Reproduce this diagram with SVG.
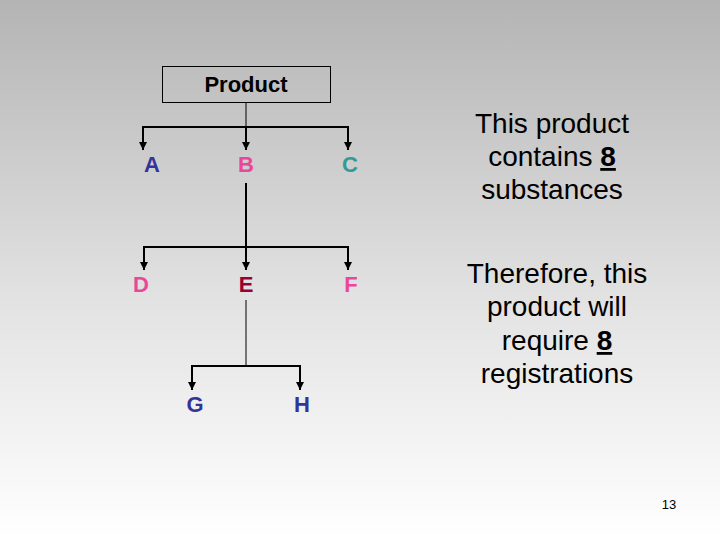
<svg xmlns="http://www.w3.org/2000/svg" width="720" height="540" viewBox="0 0 720 540">
<defs>
<linearGradient id="bg" x1="0" y1="0" x2="0" y2="1">
<stop offset="0" stop-color="#b4b4b4"/>
<stop offset="0.55" stop-color="#e2e2e2"/>
<stop offset="1" stop-color="#ffffff"/>
</linearGradient>
<marker id="ah" viewBox="0 0 10 10" refX="10" refY="5" markerWidth="8" markerHeight="8" markerUnits="userSpaceOnUse" orient="auto">
<path d="M0,0 L10,5 L0,10 Z" fill="#000"/>
</marker>
<style>
.lbl{font-family:"Liberation Sans",Arial,sans-serif;font-size:22px;font-weight:bold;text-anchor:middle}
.txt{font-family:"Liberation Sans",Arial,sans-serif;font-size:28px;text-anchor:middle;fill:#000}
.c{fill:none;stroke:#000;stroke-width:2}
.t{fill:none;stroke:#000;stroke-width:1}
</style>
</defs>
<rect width="720" height="540" fill="url(#bg)"/>
<g id="connectors">
<line class="t" x1="246" y1="102" x2="246" y2="127"/>
<polyline class="c" points="143,141 143,127 348,127 348,141"/>
<line class="c" x1="143" y1="140" x2="143" y2="150" marker-end="url(#ah)"/>
<line class="c" x1="246" y1="127" x2="246" y2="150" marker-end="url(#ah)"/>
<line class="c" x1="348" y1="140" x2="348" y2="150" marker-end="url(#ah)"/>
<line class="c" x1="246" y1="183" x2="246" y2="247"/>
<polyline class="c" points="144,261 144,247 348,247 348,261"/>
<line class="c" x1="144" y1="260" x2="144" y2="270" marker-end="url(#ah)"/>
<line class="c" x1="246" y1="247" x2="246" y2="270" marker-end="url(#ah)"/>
<line class="c" x1="348" y1="260" x2="348" y2="270" marker-end="url(#ah)"/>
<line class="t" x1="246" y1="300" x2="246" y2="366"/>
<polyline class="c" points="192,381 192,366 300,366 300,381"/>
<line class="c" x1="192" y1="380" x2="192" y2="390" marker-end="url(#ah)"/>
<line class="c" x1="300" y1="380" x2="300" y2="390" marker-end="url(#ah)"/>
</g>
<g id="product">
<rect x="162.5" y="66.5" width="168" height="36" fill="none" stroke="#000" stroke-width="1"/>
<text x="246" y="92" class="lbl" fill="#000">Product</text>
</g>
<g id="A"><text x="152" y="172" class="lbl" fill="#333399">A</text></g>
<g id="B"><text x="246" y="172" class="lbl" fill="#e8479a">B</text></g>
<g id="C"><text x="350" y="172" class="lbl" fill="#339999">C</text></g>
<g id="D"><text x="141" y="292" class="lbl" fill="#e8479a">D</text></g>
<g id="E"><text x="246" y="292" class="lbl" fill="#990033">E</text></g>
<g id="F"><text x="351" y="292" class="lbl" fill="#e8479a">F</text></g>
<g id="G"><text x="195" y="412" class="lbl" fill="#333399">G</text></g>
<g id="H"><text x="302" y="412" class="lbl" fill="#333399">H</text></g>
<g id="note1">
<text x="552" y="133" class="txt">This product</text>
<text x="552" y="166" class="txt">contains <tspan font-weight="bold" text-decoration="underline">8</tspan></text>
<text x="552" y="199" class="txt">substances</text>
</g>
<g id="note2">
<text x="557" y="283" class="txt">Therefore, this</text>
<text x="557" y="316" class="txt">product will</text>
<text x="557" y="350" class="txt">require <tspan font-weight="bold" text-decoration="underline">8</tspan></text>
<text x="557" y="383" class="txt">registrations</text>
</g>
<text x="669" y="509" font-family="'Liberation Sans',Arial,sans-serif" font-size="13" text-anchor="middle" fill="#000">13</text>
</svg>
